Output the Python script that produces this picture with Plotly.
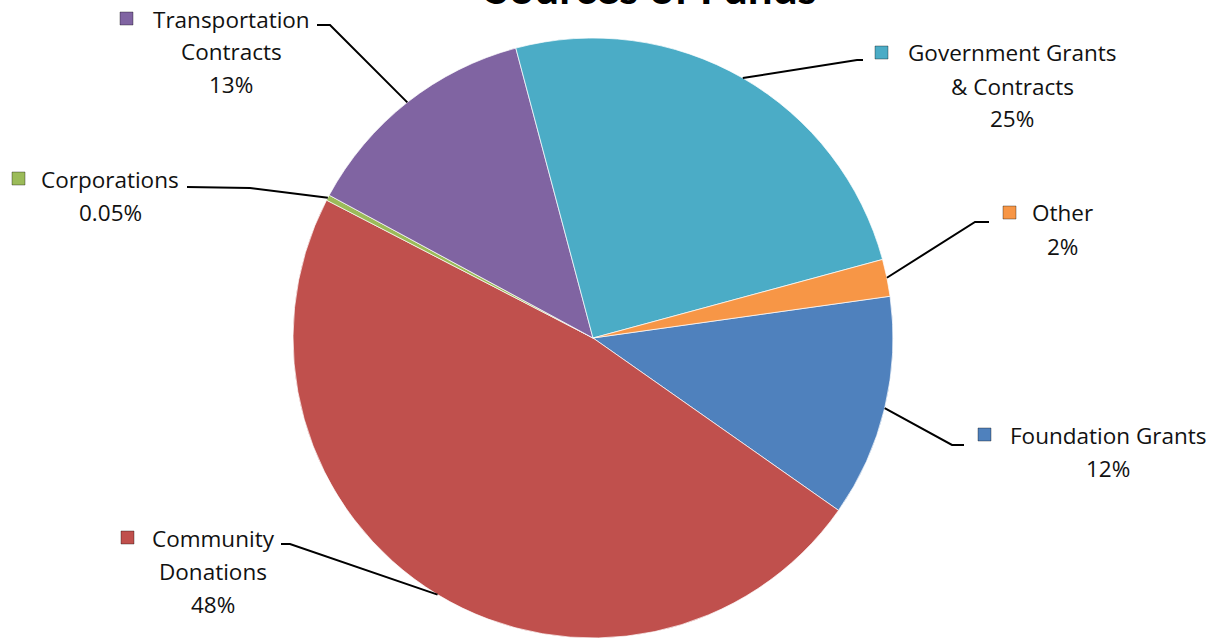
import math
import plotly.graph_objects as go

# ---- data ----
categories = ["Foundation Grants", "Community Donations", "Corporations",
              "Transportation Contracts", "Government Grants & Contracts", "Other"]
values = [12, 48, 0.3, 13, 25, 2]
pct_labels = ["12%", "48%", "0.05%", "13%", "25%", "2%"]
label_lines = [["Foundation Grants"], ["Community", "Donations"], ["Corporations"],
               ["Transportation", "Contracts"], ["Government Grants", "& Contracts"], ["Other"]]
colors = ["#4F81BD", "#C0504D", "#9BBB59", "#8064A2", "#4BACC6", "#F79646"]

W, H = 1226, 641
CX, CY, R = 593, 338, 300
ROT = 82

def px(x):
    return x / W

def py(y):
    return 1 - y / H

fig = go.Figure(go.Pie(
    labels=categories, values=values, sort=False, direction="clockwise",
    rotation=ROT, textinfo="none", hoverinfo="label+percent",
    marker=dict(colors=colors, line=dict(color="rgba(255,255,255,0.7)", width=1)),
    domain=dict(x=[px(CX - R), px(CX + R)], y=[py(CY + R), py(CY - R)]),
))

label_pos = [
    dict(cx=1108, y0=435, mx=978, bend=(952, 445), end=(964, 445)),
    dict(cx=213, y0=538, mx=121, bend=(290, 544), end=(281, 544)),
    dict(cx=110, y0=179, mx=12, bend=(250, 188), end=(187, 187)),
    dict(cx=231, y0=19, mx=120, bend=(330, 25), end=(317, 25)),
    dict(cx=1012, y0=53, mx=875, bend=(857, 60), end=(863, 60)),
    dict(cx=1062, y0=213, mx=1003, bend=(975, 222), end=(989, 222)),
]
LS = 33
FONT = "Open Sans"
FS = 22.5

total = sum(values)
cum = 0
annotations = []
shapes = []
for i, v in enumerate(values):
    mid = math.radians(ROT + (cum + v / 2) / total * 360)
    cum += v
    ex = CX + R * math.sin(mid)
    ey = CY - R * math.cos(mid)
    p = label_pos[i]
    lines = label_lines[i] + [pct_labels[i]]
    for k, t in enumerate(lines):
        annotations.append(dict(
            x=px(p["cx"]), y=py(p["y0"] + k * LS), xref="paper", yref="paper",
            text=t, showarrow=False, xanchor="center", yanchor="middle",
            font=dict(family=FONT, size=FS, color="#111111")))
    my = p["y0"]
    shapes.append(dict(type="rect", xref="paper", yref="paper",
                       x0=px(p["mx"]), x1=px(p["mx"] + 13),
                       y0=py(my - 7), y1=py(my + 6),
                       fillcolor=colors[i], line=dict(color="rgba(0,0,0,0.35)", width=1)))
    bx, by = p["bend"]
    tx, ty = p["end"]
    path = f"M {px(tx)} {py(ty)} L {px(bx)} {py(by)} L {px(ex)} {py(ey)}"
    shapes.append(dict(type="path", xref="paper", yref="paper", path=path,
                       line=dict(color="black", width=2)))

annotations.append(dict(
    x=px(651), y=py(-13), xref="paper", yref="paper", text="<b>Sources of Funds</b>",
    showarrow=False, xanchor="center", yanchor="middle",
    font=dict(family="Lato", size=44, color="black")))

fig.update_layout(
    width=W, height=H, margin=dict(l=0, r=0, t=0, b=0),
    paper_bgcolor="white", plot_bgcolor="white", showlegend=False,
    annotations=annotations, shapes=shapes,
)

fig.write_html("out.html", config={"displayModeBar": False},
               post_script="document.body.style.margin='0';document.body.style.overflow='hidden';")
